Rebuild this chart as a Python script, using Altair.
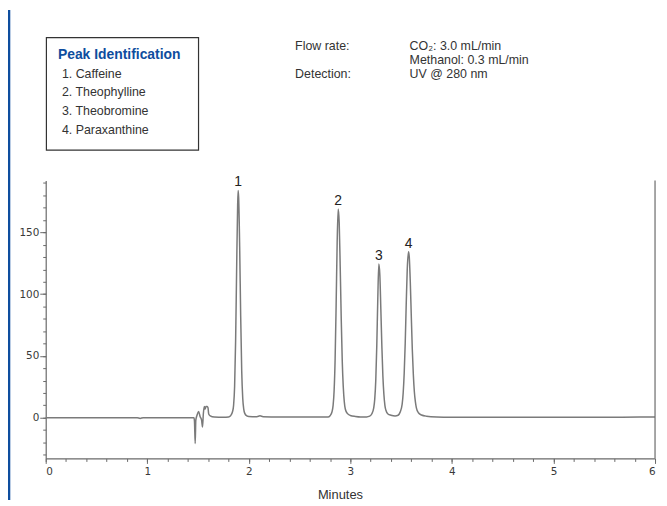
import altair as alt
import pandas as pd

# ---- chromatogram trace (minutes, signal) ----
time_min = [
    0.00, 0.50, 0.90, 0.93, 0.96, 1.44, 1.46, 1.465, 1.472, 1.478, 1.49, 1.505,
    1.52, 1.535, 1.544, 1.552, 1.562, 1.57, 1.578, 1.59, 1.598, 1.605, 1.62,
    1.66, 1.75,
    1.80, 1.82, 1.84, 1.85, 1.86, 1.87, 1.88, 1.89, 1.895, 1.90, 1.91, 1.92,
    1.93, 1.94, 1.95, 1.96, 1.98, 2.00, 2.08, 2.11, 2.14, 2.30, 2.60,
    2.78, 2.80, 2.82, 2.83, 2.84, 2.85, 2.86, 2.87, 2.88, 2.89, 2.90, 2.91,
    2.92, 2.93, 2.94, 2.95, 2.97, 3.00, 3.05, 3.10,
    3.16, 3.19, 3.21, 3.23, 3.24, 3.25, 3.26, 3.27, 3.28, 3.29, 3.30, 3.31,
    3.32, 3.33, 3.34, 3.35, 3.37, 3.40, 3.44,
    3.47, 3.49, 3.51, 3.52, 3.53, 3.54, 3.55, 3.56, 3.573, 3.58, 3.59, 3.60,
    3.61, 3.62, 3.63, 3.64, 3.65, 3.67, 3.70, 3.75, 3.85,
    4.00, 4.50, 5.00, 5.50, 5.85, 6.00,
]
signal = [
    0.0, 0.0, 0.0, -0.6, 0.0, 0.0, 0.0, -3.0, -21.0, -2.0, 2.0, 5.0,
    1.0, -2.0, -7.5, 3.0, 9.0, 7.0, 9.0, 9.0, 8.0, 3.0, 1.5,
    0.5, 0.3,
    0.5, 1.5, 5.0, 10.0, 25.0, 62.0, 120.0, 172.0, 184.0, 178.0, 138.0, 82.0,
    38.0, 16.0, 7.0, 3.5, 1.5, 1.0, 0.8, 1.5, 0.8, 0.5, 0.5,
    0.5, 1.5, 5.0, 10.0, 22.0, 48.0, 92.0, 142.0, 169.0, 158.0, 122.0, 80.0,
    46.0, 25.0, 13.0, 7.0, 3.5, 1.8, 1.0, 0.6,
    0.6, 1.2, 3.0, 8.0, 15.0, 30.0, 58.0, 96.0, 124.5, 116.0, 88.0, 58.0,
    34.0, 19.0, 10.0, 6.0, 3.0, 2.0, 1.4,
    2.0, 4.5, 11.0, 20.0, 36.0, 60.0, 92.0, 120.0, 134.4, 130.0, 110.0, 82.0,
    55.0, 35.0, 21.0, 13.0, 8.0, 4.0, 2.2, 1.2, 0.6,
    0.4, 0.3, 0.3, 0.3, 0.5, 0.5,
]

# ---- peaks ----
peak_time = [1.895, 2.88, 3.28, 3.573]
peak_height = [184.0, 169.0, 124.5, 134.4]
peak_label = ["1", "2", "3", "4"]

# ---- texts ----
legend_title = "Peak Identification"
compounds = ["1. Caffeine", "2. Theophylline", "3. Theobromine", "4. Paraxanthine"]
cond_labels = ["Flow rate:", "Detection:"]
cond_values = ["CO\u2082: 3.0 mL/min", "Methanol: 0.3 mL/min", "UV @ 280 nm"]
x_title = "Minutes"

# ---- axes ----
x_domain = [0, 6]
y_domain = [-33, 192]
x_major = [0, 1, 2, 3, 4, 5, 6]
x_minor = [0, 0.2, 0.4, 0.6, 0.8, 1, 1.2, 1.4, 1.6, 1.8, 2, 2.2, 2.4, 2.6, 2.8,
           3, 3.2, 3.4, 3.6, 3.8, 4, 4.2, 4.4, 4.6, 4.8, 5, 5.2, 5.4, 5.6, 5.8, 6]
y_major = [0, 50, 100, 150]
y_minor = [-30, -20, -10, 0, 10, 20, 30, 40, 50, 60, 70, 80, 90, 100, 110, 120,
           130, 140, 150, 160, 170, 180, 190]

FONT = "Liberation Sans, Arial, sans-serif"
BLUE = "#0e4d9e"
AXC = "#6a6a6a"

trace = pd.DataFrame({"t": time_min, "v": signal})
peaks = pd.DataFrame({"t": peak_time, "v": peak_height, "label": peak_label})
edge = pd.DataFrame({"t": [x_domain[1]], "lo": [y_domain[0]], "hi": [y_domain[1]]})

xs = alt.Scale(domain=x_domain, nice=False, zero=False)
ys = alt.Scale(domain=y_domain, nice=False, zero=False)

line = alt.Chart(trace).mark_line(color="#7a7a7a", strokeWidth=1.5, interpolate="monotone").encode(
    x=alt.X("t:Q", scale=xs, axis=alt.Axis(
        orient="bottom", values=x_major, format="d", title=None, grid=False,
        tickSize=5, labelPadding=3, domainColor=AXC, tickColor=AXC)),
    y=alt.Y("v:Q", scale=ys, axis=alt.Axis(
        orient="left", values=y_major, format="d", title=None, grid=False,
        tickSize=6, labelPadding=1, domainColor=AXC, tickColor=AXC)),
)

right_edge = alt.Chart(edge).mark_rule(color=AXC, strokeWidth=1.2).encode(
    x=alt.X("t:Q", scale=xs, axis=alt.Axis(
        orient="bottom", values=x_minor, labels=False, domain=False, grid=False,
        title=None, tickSize=3, tickColor=AXC)),
    y=alt.Y("lo:Q", scale=ys, axis=alt.Axis(
        orient="left", values=y_minor, labels=False, domain=False, grid=False,
        title=None, tickSize=3, tickColor=AXC)),
    y2="hi:Q",
)

peak_text = alt.Chart(peaks).mark_text(
    font=FONT, fontSize=14, color="#222", baseline="alphabetic", dy=-4
).encode(
    x=alt.X("t:Q", scale=xs, axis=None),
    y=alt.Y("v:Q", scale=ys, axis=None),
    text="label:N",
)

one = pd.DataFrame({"k": [0]})


def label(txt, x, y, size=13, color="#333", weight="normal", align="left"):
    return alt.Chart(one).mark_text(
        font=FONT, fontSize=size, color=color, fontWeight=weight,
        align=align, baseline="middle"
    ).encode(x=alt.value(x), y=alt.value(y), text=alt.value(txt))


annots = []
# left blue page border
annots.append(alt.Chart(one).mark_rule(color=BLUE, strokeWidth=2.6).encode(
    x=alt.value(-37), y=alt.value(-172), y2=alt.value(322)))
# legend box
annots.append(alt.Chart(one).mark_rect(fill="white", stroke="#333", strokeWidth=1.2).encode(
    x=alt.value(0.7), x2=alt.value(154), y=alt.value(-144), y2=alt.value(-30.7)))
annots.append(label(legend_title, 12.3, -126.5, size=14, color=BLUE, weight="bold"))
for i, c in enumerate(compounds):
    annots.append(label(c, 16.3, -107.7 + i * 18.8, size=12.5))
annots.append(label(cond_labels[0], 251.3, -136.0, size=12.5))
annots.append(label(cond_labels[1], 251.3, -107.0, size=12.5))
annots.append(label(cond_values[0], 366.7, -136.0, size=12.5))
annots.append(label(cond_values[1], 366.7, -121.5, size=12.5))
annots.append(label(cond_values[2], 366.7, -107.0, size=12.5))
annots.append(label(x_title, 297, 317, size=13, align="center"))

chart = alt.layer(line, right_edge, peak_text, *annots).resolve_axis(
    x="independent", y="independent"
).properties(
    width=614, height=280,
    autosize=alt.AutoSizeParams(type="none"),
    padding={"left": 38, "top": 172, "right": 4, "bottom": 42},
).configure_view(stroke=None).configure_axis(
    labelFont="DejaVu Sans", labelFontSize=10.5, labelColor="#3a3a3a",
    domainWidth=1.2, tickWidth=1,
)

chart.save("out.html", embed_options={"renderer": "svg", "actions": False})
